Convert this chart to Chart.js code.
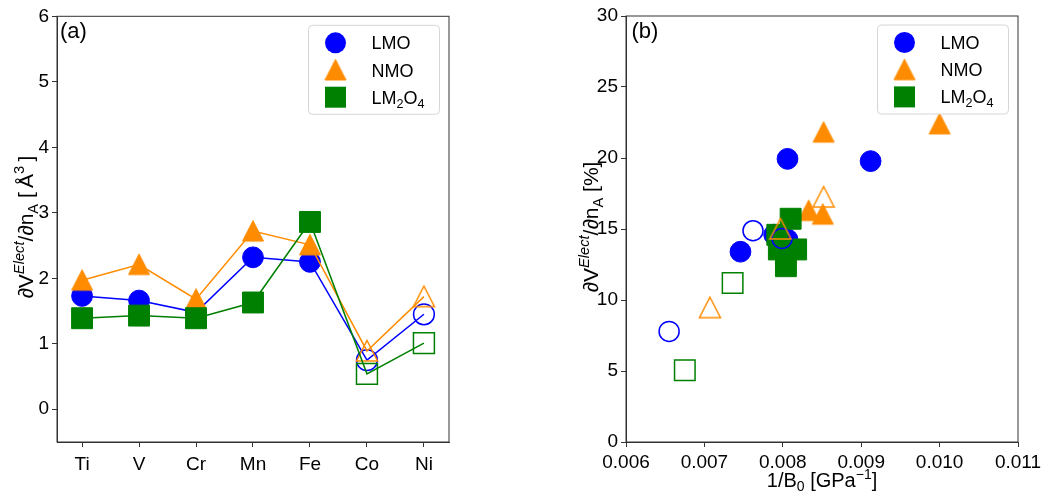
<!DOCTYPE html>
<html>
<head>
<meta charset="utf-8">
<script src="https://cdn.jsdelivr.net/npm/chart.js@4.4.1/dist/chart.umd.min.js"></script>
<style>
  body { margin: 0; background: #fff; }
  #wrap { position: relative; width: 1046px; height: 502px; }
  .panel { position: absolute; top: 0; width: 523px; height: 502px; }
</style>
</head>
<body>
<div id="wrap">
  <div class="panel" style="left:0"><canvas id="chartA"></canvas></div>
  <div class="panel" style="left:523px"><canvas id="chartB"></canvas></div>
</div>
<script>
// panel (a): dopant element on x
const elements = ["Ti", "V", "Cr", "Mn", "Fe", "Co", "Ni"];
const lmoA = [1.73, 1.66, 1.48, 2.32, 2.25, 0.75, 1.45];
const nmoA = [1.97, 2.21, 1.68, 2.72, 2.51, 0.89, 1.72];
const lm2o4A = [1.39, 1.43, 1.39, 1.63, 2.86, 0.54, 1.01];
const openFrom = 5; // Co and Ni use open markers
const yTicksA = [0, 1, 2, 3, 4, 5, 6];

// panel (b): [1/B0, dV %]
const lmoFilledB = [[0.00806, 19.94], [0.00912, 19.78], [0.00746, 13.40], [0.00789, 14.60], [0.00806, 14.26]];
const lmoOpenB = [[0.00655, 7.79], [0.00762, 14.88], [0.00799, 14.33]];
const nmoFilledB = [[0.00852, 21.82], [0.01000, 22.40], [0.00833, 16.30], [0.00851, 16.04]];
const nmoOpenB = [[0.00852, 17.25], [0.00707, 9.46], [0.00797, 15.00]];
const lm2o4FilledB = [[0.00810, 15.72], [0.00793, 14.59], [0.00795, 13.56], [0.00817, 13.56], [0.00804, 12.38]];
const lm2o4OpenB = [[0.00736, 11.20], [0.00675, 5.06]];
const xTicksB = [0.006, 0.007, 0.008, 0.009, 0.010, 0.011];
const yTicksB = [0, 5, 10, 15, 20, 25, 30];

const BLUE = "#0000ff";
const ORANGE = "#ff8c00";
const GREEN = "#008000";
const CLEAR = "rgba(0,0,0,0)";
const FAMILY = '"Liberation Sans", Arial, sans-serif';
const tickFont = { family: FAMILY, size: 19 };

function triangleMarker(color, filled) {
  const c = document.createElement("canvas");
  c.width = 24;
  c.height = 24;
  const g = c.getContext("2d");
  g.beginPath();
  g.moveTo(12, 1.5);
  g.lineTo(22.5, 22);
  g.lineTo(1.5, 22);
  g.closePath();
  g.strokeStyle = color;
  if (filled) {
    g.fillStyle = color;
    g.fill();
    g.lineWidth = 1;
  } else {
    g.lineWidth = 1.5;
  }
  g.stroke();
  return c;
}

const triFilled = triangleMarker(ORANGE, true);
const triOpen = triangleMarker(ORANGE, false);

// text with super/subscripts, parts = [text, kind]
function drawRich(ctx, parts, x, y, angle, size, align) {
  const fontFor = k => (k === "supi" ? "italic " : "") + (k === "n" ? size : size * 0.7) + "px " + FAMILY;
  let total = 0;
  const widths = parts.map(([t, k]) => {
    ctx.font = fontFor(k);
    const w = ctx.measureText(t).width;
    total += w;
    return w;
  });
  ctx.save();
  ctx.translate(x, y);
  ctx.rotate(angle);
  ctx.textAlign = "left";
  ctx.textBaseline = "alphabetic";
  ctx.fillStyle = "#000";
  let cx = align === "left" ? 0 : -total / 2;
  parts.forEach(([t, k], i) => {
    ctx.font = fontFor(k);
    const dy = k.startsWith("sup") ? -size * 0.42 : (k === "sub" ? size * 0.22 : 0);
    ctx.fillText(t, cx, dy);
    cx += widths[i];
  });
  ctx.restore();
}

const legendItems = [
  { kind: "circle", color: BLUE, label: [["LMO", "n"]] },
  { kind: "tri", color: ORANGE, label: [["NMO", "n"]] },
  { kind: "rect", color: GREEN, label: [["LM", "n"], ["2", "sub"], ["O", "n"], ["4", "sub"]] }
];

const panelPlugin = {
  id: "panel",
  afterDraw(chart, args, opts) {
    const { ctx, chartArea: a } = chart;
    ctx.save();
    ctx.strokeStyle = "#333";
    ctx.lineWidth = 1;
    ctx.strokeRect(a.left, a.top, a.right - a.left, a.bottom - a.top);

    // legend box
    const w = 131, h = 89;
    const x0 = a.right - 9.5 - w, y0 = a.top + 9;
    ctx.beginPath();
    ctx.roundRect(x0, y0, w, h, 4);
    ctx.fillStyle = "rgba(255,255,255,0.8)";
    ctx.fill();
    ctx.strokeStyle = "#d6d6d6";
    ctx.stroke();
    legendItems.forEach((it, i) => {
      const mx = x0 + 27, my = y0 + 17.5 + i * 27.2;
      ctx.fillStyle = it.color;
      ctx.strokeStyle = it.color;
      if (it.kind === "circle") {
        ctx.beginPath();
        ctx.arc(mx, my, 10.5, 0, Math.PI * 2);
        ctx.fill();
      } else if (it.kind === "tri") {
        ctx.drawImage(triFilled, mx - 12, my - 12);
      } else {
        ctx.fillRect(mx - 10.5, my - 10.5, 21, 21);
      }
      drawRich(ctx, it.label, x0 + 63, my + 6.5, 0, 18, "left");
    });

    // panel label
    ctx.fillStyle = "#000";
    ctx.font = "22px " + FAMILY;
    ctx.textAlign = "left";
    ctx.textBaseline = "alphabetic";
    ctx.fillText(opts.tag, a.left + opts.tagDx, a.top + 21.5);

    // axis titles
    drawRich(ctx, opts.yTitle, opts.yTitleX, (a.top + a.bottom) / 2 - 2, -Math.PI / 2, 21, "center");
    if (opts.xTitle) {
      drawRich(ctx, opts.xTitle, (a.left + a.right) / 2, opts.xTitleY, 0, 20, "center");
    }
    ctx.restore();
  }
};

function axisBase(extra) {
  return Object.assign({
    type: "linear",
    ticks: { color: "#000", font: tickFont, padding: 3, maxRotation: 0, autoSkip: false },
    grid: { drawOnChartArea: false, drawTicks: true, tickLength: 5, color: "#333", lineWidth: 1 },
    border: { display: true, color: "#333", width: 1 }
  }, extra);
}

function lineSet(values, color, style, radius, order) {
  return {
    data: values.map((v, i) => ({ x: i, y: v })),
    borderColor: color,
    borderWidth: 1.5,
    pointStyle: values.map((v, i) => typeof style === "function" ? style(i) : style),
    pointRadius: radius,
    pointBorderColor: color,
    pointBorderWidth: values.map((v, i) => i >= openFrom ? 1.5 : 1),
    pointBackgroundColor: values.map((v, i) => i >= openFrom ? CLEAR : color),
    order: order
  };
}

const yTitle = [["\u2202V", "n"], ["Elect", "supi"], ["/\u2202n", "n"], ["A", "sub"]];

new Chart(document.getElementById("chartA"), {
  type: "line",
  data: {
    datasets: [
      lineSet(lmoA, BLUE, "circle", 10.4, 3),
      lineSet(nmoA, ORANGE, i => (i >= openFrom ? triOpen : triFilled), 10, 2),
      lineSet(lm2o4A, GREEN, "rect", 14.8, 1)
    ]
  },
  options: {
    responsive: true,
    maintainAspectRatio: false,
    animation: false,
    events: [],
    layout: { padding: { left: 0, right: 74, top: 11, bottom: 0 } },
    plugins: {
      legend: { display: false },
      tooltip: { enabled: false },
      panel: {
        tag: "(a)",
        tagDx: 3,
        yTitle: yTitle.concat([[" [\u2009\u00c5", "n"], ["3", "sup"], ["\u2009]", "n"]]),
        yTitleX: 33
      }
    },
    scales: {
      x: axisBase({
        min: -0.44,
        max: 6.44,
        afterBuildTicks: ax => { ax.ticks = elements.map((e, i) => ({ value: i })); },
        afterFit: ax => { ax.height = 60; },
        ticks: { color: "#000", font: tickFont, padding: 6, maxRotation: 0, autoSkip: false, callback: v => elements[v] }
      }),
      y: axisBase({
        min: -0.5,
        max: 6,
        afterBuildTicks: ax => { ax.ticks = yTicksA.map(v => ({ value: v })); },
        afterFit: ax => { ax.width = 57; }
      })
    }
  },
  plugins: [panelPlugin]
});

function scatterSet(points, color, style, radius, open, order) {
  return {
    data: points.map(p => ({ x: p[0], y: p[1] })),
    showLine: false,
    pointStyle: style,
    pointRadius: radius,
    pointBorderColor: color,
    pointBorderWidth: open ? 1.5 : 1,
    pointBackgroundColor: open ? CLEAR : color,
    order: order
  };
}

new Chart(document.getElementById("chartB"), {
  type: "scatter",
  data: {
    datasets: [
      scatterSet(lmoFilledB, BLUE, "circle", 10.4, false, 6),
      scatterSet(nmoFilledB, ORANGE, triFilled, 10, false, 5),
      scatterSet(lm2o4FilledB, GREEN, "rect", 14.8, false, 4),
      scatterSet(lmoOpenB, BLUE, "circle", 10, true, 3),
      scatterSet(nmoOpenB, ORANGE, triOpen, 10, true, 2),
      scatterSet(lm2o4OpenB, GREEN, "rect", 14.5, true, 1)
    ]
  },
  options: {
    responsive: true,
    maintainAspectRatio: false,
    animation: false,
    events: [],
    layout: { padding: { left: 0, right: 28, top: 11, bottom: 0 } },
    plugins: {
      legend: { display: false },
      tooltip: { enabled: false },
      panel: {
        tag: "(b)",
        tagDx: 5.5,
        yTitle: yTitle.concat([[" [%]", "n"]]),
        yTitleX: 75,
        xTitle: [["1/B", "n"], ["0", "sub"], [" [GPa", "n"], ["\u22121", "sup"], ["]", "n"]],
        xTitleY: 487
      }
    },
    scales: {
      x: axisBase({
        min: 0.006,
        max: 0.011,
        afterBuildTicks: ax => { ax.ticks = xTicksB.map(v => ({ value: v })); },
        afterFit: ax => { ax.height = 60; },
        ticks: { color: "#000", font: tickFont, padding: 4, maxRotation: 0, autoSkip: false, callback: v => v.toFixed(3) }
      }),
      y: axisBase({
        min: 0,
        max: 30,
        afterBuildTicks: ax => { ax.ticks = yTicksB.map(v => ({ value: v })); },
        afterFit: ax => { ax.width = 103; }
      })
    }
  },
  plugins: [panelPlugin]
});
</script>
</body>
</html>
